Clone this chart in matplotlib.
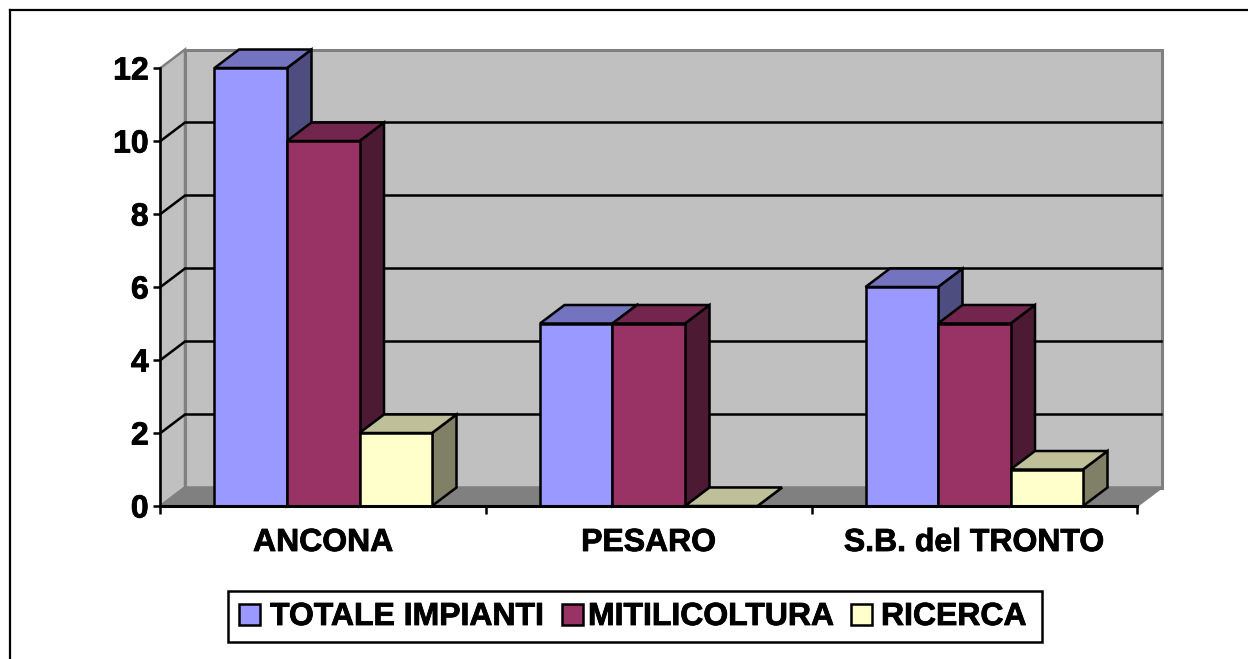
import matplotlib
matplotlib.use("Agg")
import matplotlib.pyplot as plt
import matplotlib.patheffects as pe
from matplotlib.patches import Polygon, Rectangle
from matplotlib.lines import Line2D

W, H = 1248, 659
categories = ["ANCONA", "PESARO", "S.B. del TRONTO"]
series_names = ["TOTALE IMPIANTI", "MITILICOLTURA", "RICERCA"]
totale = [12, 5, 6]
mitilicoltura = [10, 5, 5]
ricerca = [2, 0, 1]
y_ticks = [0, 2, 4, 6, 8, 10, 12]

front = ["#9999FF", "#993366", "#FFFFCC"]
top = ["#7373BF", "#73264D", "#BFBF99"]
side = ["#4D4D80", "#4D1A33", "#808066"]

plt.rcParams["font.family"] = ["Liberation Sans", "DejaVu Sans"]
fig = plt.figure(figsize=(W / 100, H / 100), dpi=100, facecolor="white")
heavy = [pe.withStroke(linewidth=0.6, foreground="black")]

# outer frame: only top and left edges fall inside the picture
fig.add_artist(Line2D([9.5 / W, 9.5 / W], [0, 1 - 9.5 / H], color="black", lw=1.6))
fig.add_artist(Line2D([9.5 / W, 1], [1 - 9.5 / H, 1 - 9.5 / H], color="black", lw=1.6))

L, R, B, T = 160.5, 1137, 506, 68
ax = fig.add_axes([L / W, 1 - B / H, (R - L) / W, (B - T) / H])
ax.set_xlim(0, 3)
ax.set_ylim(0, 12)
ax.patch.set_visible(False)
for s in ax.spines.values():
    s.set_visible(False)

DX = 24.5 * 3 / (R - L)
DY = 18.5 * 12 / (B - T)
GAP = 54 / ((R - L) / 3)
BW = (1 - 2 * GAP) / 3
GREY = "#808080"
EDGE = 1.8


def poly(pts, fc, ec="black", lw=EDGE, z=2):
    ax.add_patch(Polygon(pts, closed=True, facecolor=fc, edgecolor=ec, linewidth=lw,
                         zorder=z, clip_on=False, joinstyle="miter"))


# back wall, side wall, floor
poly([(DX, DY), (3 + DX, DY), (3 + DX, 12 + DY), (DX, 12 + DY)], "#C0C0C0", GREY, 2.2, 1)
poly([(0, 0), (DX, DY), (DX, 12 + DY), (0, 12)], "#C0C0C0", GREY, 1.8, 1)
poly([(0, 0), (3, 0), (3 + DX, DY), (DX, DY)], "#808080", GREY, 1.8, 1)

# gridlines
for v in y_ticks[1:-1]:
    ax.plot([0, DX, 3 + DX], [v, v + DY, v + DY], color="black", lw=1.8, zorder=1.5,
            clip_on=False, solid_joinstyle="miter")
ax.plot([0, 0], [0, 12], color="black", lw=1.8, zorder=1.6, clip_on=False)

# bars, drawn back-to-front left-to-right within each group
for i in range(len(categories)):
    for j, vals in enumerate([totale, mitilicoltura, ricerca]):
        v = vals[i]
        x0 = i + GAP + j * BW
        x1 = x0 + BW
        z = 3 + i + j * 0.1
        poly([(x1, 0), (x1 + DX, DY), (x1 + DX, v + DY), (x1, v)], side[j], z=z)
        poly([(x0, v), (x1, v), (x1 + DX, v + DY), (x0 + DX, v + DY)], top[j], z=z)
        poly([(x0, 0), (x1, 0), (x1, v), (x0, v)], front[j], z=z)

# axis base line on top of bars
ax.plot([0, 3], [0, 0], color="black", lw=2.2, zorder=20, clip_on=False)

ax.set_yticks(y_ticks)
ax.set_yticklabels([str(t) for t in y_ticks], fontsize=23, fontweight="bold", path_effects=heavy)
ax.set_xticks([0, 1, 2, 3])
ax.set_xticklabels([])
ax.tick_params(axis="y", length=5, width=1.8, pad=3.5, color="black")
ax.tick_params(axis="x", length=6, width=1.8, color="black")
for i, c in enumerate(categories):
    ax.annotate(c, xy=(i + 0.5, 0), xytext=(0, -37), textcoords="offset pixels",
                ha="center", va="center", fontsize=23, fontweight="bold",
                annotation_clip=False, path_effects=heavy)

# legend box
fig.add_artist(Rectangle((228.5 / W, 1 - 642 / H), (1041.5 - 228.5) / W, (642 - 591) / H,
                         transform=fig.transFigure, facecolor="white", edgecolor="black", lw=1.8))
swatch_x = [239, 562, 851]
text_x = [270, 588, 881]
for sx, tx, name, col in zip(swatch_x, text_x, series_names, front):
    fig.add_artist(Rectangle((sx / W, 1 - 625 / H), 21 / W, 21 / H, transform=fig.transFigure,
                             facecolor=col, edgecolor="black", lw=1.8))
    fig.text(tx / W, 1 - 617 / H, name, ha="left", va="center", fontsize=23, fontweight="bold",
             path_effects=heavy)

fig.savefig("out.png", dpi=100)
